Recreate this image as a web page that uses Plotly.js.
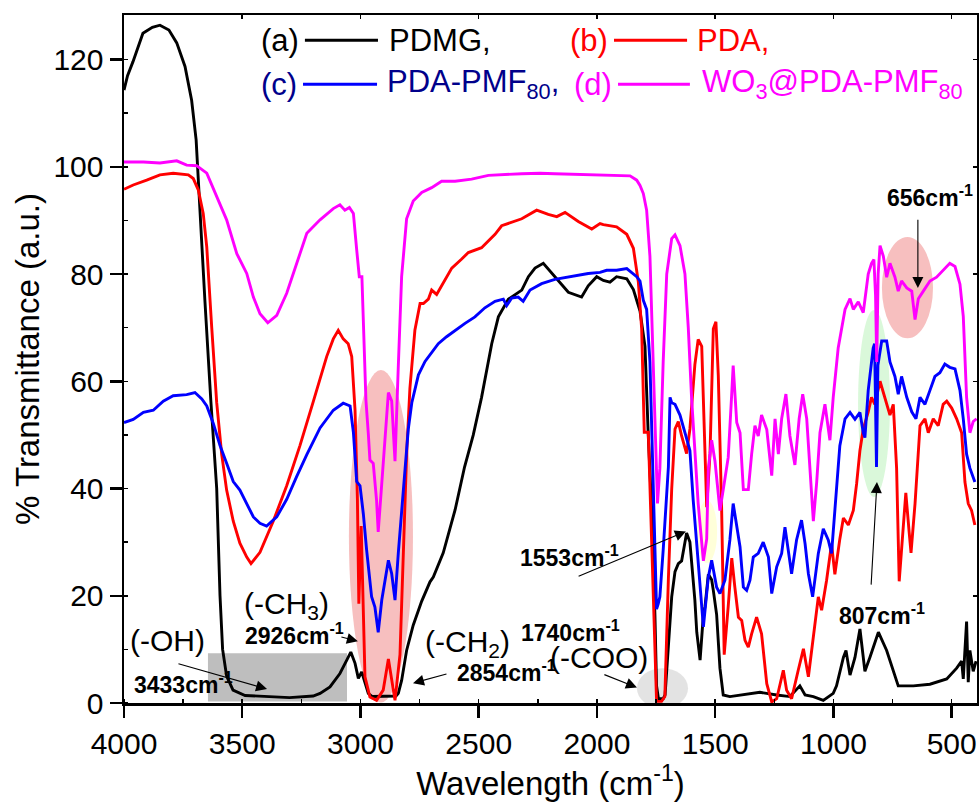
<!DOCTYPE html>
<html>
<head>
<meta charset="utf-8">
<script src="https://cdn.plot.ly/plotly-3.0.1.min.js"></script>
<style>html,body{margin:0;padding:0;background:#fff;}#chart{width:979px;height:803px;}</style>
</head>
<body>
<div id="chart"></div>
<script>
// ---- data: [wavenumber (cm-1), % transmittance] ----
const pdmg = [[4000,114.3],[3985,117],[3962,119.6],[3940,122.5],[3920,124.9],[3880,126],[3848,126.4],[3810,125.5],[3777,123.1],[3742,118.7],[3714,112.4],[3695,105],[3682,93.8],[3658,75.1],[3633,56.5],[3608,40],[3594,20],[3583,10],[3566,5],[3539,2.4],[3488,1.4],[3400,1.2],[3300,1.0],[3200,1.3],[3171,1.8],[3129,3.0],[3087,5.5],[3058,8.0],[3041,9.5],[3023,7.4],[3009,4.6],[2995,5.8],[2981,3.9],[2967,1.8],[2950,1.2],[2900,1.2],[2850,1.3],[2840,1.8],[2826,4.2],[2805,9.8],[2777,14.5],[2741,19],[2706,22.6],[2692,23.5],[2650,28],[2600,36],[2560,44],[2523,50],[2488,57],[2445,67],[2417,72],[2375,75.3],[2318,77],[2290,79.5],[2262,81.1],[2227,82],[2178,79.5],[2121,76.6],[2065,75.7],[2037,77.8],[2001,79.5],[1973,78.8],[1945,78.5],[1917,79.5],[1874,79.1],[1846,77.1],[1818,73.1],[1797,66.5],[1783,49.8],[1769,36.5],[1755,16.5],[1748,3.2],[1740,0.8],[1720,0.8],[1712,1.5],[1698,9.8],[1684,19.8],[1670,24.5],[1656,26],[1642,26.5],[1621,31.7],[1607,30],[1593,23.2],[1586,19.2],[1578,13.2],[1564,8],[1550,16.5],[1543,18],[1529,24],[1515,23],[1508,21],[1494,16.5],[1480,6.5],[1466,1.5],[1438,1.2],[1381,1.5],[1311,2.0],[1240,1.5],[1184,1.2],[1142,3.2],[1120,1.5],[1085,1.2],[1043,0.5],[1001,1.8],[987,3.2],[958,8.5],[947,9.8],[930,5.2],[909,8.5],[888,13.8],[867,5.9],[846,8.5],[810,13.2],[775,9.8],[747,5.9],[726,3.2],[662,3.2],[592,3.5],[521,4.5],[479,6.5],[458,7.8],[451,4.5],[437,15.2],[430,3.9],[423,9.8],[409,5.9],[397,7.8]];

const pda = [[4000,95.8],[3961,96.6],[3904,97.5],[3848,98.5],[3792,98.8],[3728,98.5],[3707,97.8],[3686,95.7],[3665,91.3],[3650,85],[3629,70],[3608,56],[3587,46.4],[3566,39.7],[3538,33.9],[3510,29.8],[3481,27.2],[3463,26.0],[3425,28.1],[3369,33.9],[3312,40.5],[3256,48.0],[3199,56.3],[3143,64.6],[3115,67.9],[3094,69.5],[3073,67.9],[3052,67.0],[3037,64.6],[3023,54.6],[3013,38],[3007,18.5],[2997,33],[2981,4.9],[2960,1.1],[2932,0.5],[2904,2.4],[2882,8.2],[2861,2.4],[2854,0.5],[2833,9.0],[2819,29.7],[2805,46.3],[2791,58.7],[2770,69.5],[2748,74.5],[2734,74.5],[2713,75.3],[2699,77.0],[2678,76.2],[2657,77.8],[2614,81.1],[2572,82.8],[2544,84.0],[2488,84.9],[2431,87.4],[2403,89.0],[2375,89.4],[2318,90.3],[2255,91.9],[2206,91.1],[2170,90.7],[2135,91.5],[2079,89.8],[2022,88.4],[1987,89.4],[1973,89.2],[1917,88.8],[1874,87.4],[1846,84.8],[1825,78.5],[1811,69.8],[1804,59.8],[1800,50.5],[1783,50.5],[1769,29.8],[1755,6.5],[1748,0.3],[1727,0.3],[1713,1.2],[1698,23.2],[1684,39.9],[1670,51.1],[1656,52.5],[1642,49.8],[1621,46.5],[1607,51.1],[1586,63.1],[1572,67.8],[1557,66.5],[1543,46.5],[1536,36.5],[1522,46.5],[1508,69.8],[1497,71.1],[1487,61.1],[1473,36.5],[1462,9],[1445,18],[1430,27],[1417,21.6],[1402,16],[1388,15.4],[1374,11.7],[1360,10.4],[1346,12.9],[1325,16],[1304,12.9],[1282,3.6],[1261,0.2],[1240,0.8],[1212,6.1],[1198,2.4],[1177,0.8],[1149,6.1],[1127,10.1],[1106,4.9],[1085,12.9],[1064,19.8],[1050,17.3],[1029,22.9],[1008,29.7],[994,24],[973,30.6],[958,34.5],[937,33.2],[916,35.9],[902,40.9],[888,47.1],[874,51.1],[853,54.3],[839,57],[825,55.7],[803,60],[789,58],[775,55.7],[761,53.7],[747,55.7],[733,43.8],[722,22.7],[708,30.6],[694,39.2],[680,31.9],[672,28],[655,37.2],[634,51.7],[613,53],[599,50.4],[578,53],[557,51.7],[536,55.7],[521,56.3],[500,55],[479,53],[458,50.4],[444,41.2],[430,37.2],[416,35.9],[402,33.2]];

const pdaPmf = [[4000,52.3],[3961,52.9],[3918,54.2],[3876,54.6],[3834,56.3],[3792,57.3],[3735,57.5],[3700,57.9],[3671,56.7],[3650,55.4],[3622,52.1],[3594,48.0],[3566,44.7],[3538,41.3],[3510,39.7],[3481,37.2],[3453,34.7],[3425,33.5],[3397,33.0],[3354,34.7],[3312,38.0],[3270,42.2],[3227,46.3],[3171,51.3],[3115,54.6],[3073,55.9],[3044,55.4],[3030,50.5],[3016,41.3],[3002,40.5],[2988,35.3],[2974,28.5],[2953,19.8],[2939,17.9],[2925,13.2],[2910,19.2],[2882,26.6],[2868,24.1],[2854,19.2],[2840,28],[2826,36],[2812,44],[2798,51],[2783,56],[2755,61.2],[2727,63.7],[2699,65.4],[2671,67.0],[2636,68.3],[2600,69.5],[2558,70.8],[2516,72.0],[2474,73.7],[2431,74.9],[2396,75.3],[2382,74.1],[2361,75.5],[2333,75.7],[2312,74.9],[2283,77.0],[2234,78.2],[2178,79.0],[2107,79.6],[2037,80.1],[1987,80.3],[1959,80.7],[1917,80.7],[1874,81.0],[1832,79.5],[1818,78.7],[1804,75.1],[1790,73.4],[1776,63.6],[1762,40],[1748,17.5],[1741,18.5],[1734,19.8],[1720,28.5],[1698,44.0],[1691,57],[1684,56],[1670,55.7],[1649,53.7],[1628,50.4],[1607,47.1],[1593,37.8],[1572,25.4],[1550,14.2],[1529,23.5],[1515,26.6],[1494,21.6],[1480,20.4],[1459,22.9],[1438,30.4],[1424,37.2],[1409,32.8],[1395,29.1],[1381,21.6],[1367,21.0],[1353,22.9],[1339,27.2],[1318,27.9],[1297,30.0],[1275,27.2],[1261,20.4],[1240,25.4],[1219,27.9],[1205,32.8],[1191,28.5],[1177,24.1],[1156,30.4],[1135,34.1],[1120,29.7],[1106,24.1],[1088,19.8],[1064,27.9],[1043,32.5],[1022,30.4],[1008,27.9],[994,36],[973,48],[951,53],[930,54.2],[909,52.9],[888,54.2],[874,50.4],[867,49.5],[853,58.3],[832,66.2],[826,67],[818,44],[812,63],[796,67.5],[775,67.5],[761,63.6],[740,60.9],[726,57.6],[712,60.9],[690,57.0],[669,54.3],[651,53.0],[634,57.0],[613,55.7],[592,58.3],[571,60.9],[550,61.6],[529,63.2],[508,62.6],[486,62.3],[465,58.3],[451,53.0],[437,46.4],[423,43.8],[402,41.2]];

const wo3 = [[4000,100.9],[3918,100.9],[3848,100.7],[3777,101.1],[3735,100.3],[3693,100.2],[3650,98.8],[3608,94.4],[3566,90.1],[3523,83.8],[3481,80.1],[3453,75.7],[3425,72.6],[3392,70.9],[3354,72.3],[3312,76.4],[3270,82.0],[3227,87.6],[3171,90.1],[3115,92.2],[3087,92.9],[3066,91.9],[3047,92.4],[3030,91.3],[3016,84.5],[3005,79.5],[2994,79.5],[2985,68.9],[2977,56.5],[2967,50.3],[2960,45.3],[2946,44.7],[2932,37.8],[2925,31.9],[2910,40.9],[2889,53.4],[2882,57.9],[2868,56.3],[2854,45.1],[2840,62.9],[2826,79.5],[2805,90.3],[2777,93.6],[2741,95.2],[2699,96.1],[2657,97.3],[2600,97.3],[2530,97.7],[2459,98.4],[2318,98.7],[2241,98.8],[2178,98.7],[2030,98.5],[1860,98.3],[1832,97.5],[1818,96.5],[1804,95.0],[1790,91.9],[1776,83.3],[1762,63.6],[1751,43.8],[1744,37.2],[1734,43.8],[1720,63.6],[1705,80.0],[1684,86.6],[1670,87.3],[1649,85.3],[1628,80.0],[1614,70.1],[1600,57.0],[1586,47.1],[1572,37.2],[1550,26.5],[1536,30.6],[1529,43.8],[1515,49.0],[1501,45.1],[1487,38],[1480,35.9],[1466,39.8],[1445,45.8],[1431,57.0],[1424,62.9],[1409,52.3],[1395,50.4],[1381,39.8],[1360,39.8],[1346,46.4],[1332,51.7],[1318,49.8],[1304,53.7],[1282,51.0],[1261,42.4],[1247,53.0],[1233,46.4],[1219,53.0],[1201,57.6],[1184,49.8],[1163,44.4],[1145,53.0],[1130,57.6],[1113,53.0],[1099,43.8],[1085,33.9],[1071,41.1],[1057,50.4],[1036,55.7],[1015,49.0],[1001,57.0],[980,66.2],[951,73.4],[930,75.4],[916,73.4],[895,74.8],[874,72.8],[853,80.0],[839,82.0],[829,82.7],[822,76],[817,63.6],[811,80],[803,85.3],[789,83.3],[775,79.4],[761,82.0],[740,79.4],[726,76.8],[712,78.7],[690,77.4],[669,76.8],[655,71.5],[641,75.4],[620,76.8],[592,78.7],[564,79.4],[536,80.7],[508,82.0],[486,81.4],[465,78.1],[451,72.1],[437,57.0],[423,50.4],[409,52.5],[395,53.0]];

const seriesNames = ['PDMG', 'PDA', 'PDA-PMF80', 'WO3@PDA-PMF80'];
const seriesData = [pdmg, pda, pdaPmf, wo3];
const seriesColors = ['#000000', '#FF0000', '#0000FF', '#FF00FF'];

// peak labels: [text, x, y]
const peakLabels = [
  ['<b>3433cm<sup>-1</sup></b>', 3966, 3.8],
  ['<b>2926cm<sup>-1</sup></b>', 3497, 12.9],
  ['<b>2854cm<sup>-1</sup></b>', 2600, 5.9],
  ['<b>1740cm<sup>-1</sup></b>', 2330, 13.4],
  ['<b>1553cm<sup>-1</sup></b>', 2334, 27.4],
  ['<b>807cm<sup>-1</sup></b>', 985, 16.6],
  ['<b>656cm<sup>-1</sup></b>', 782, 94.5]
];
const groupLabels = [
  ['(-OH)', 3983, 11.7],
  ['(-CH<sub>3</sub>)', 3501, 18.2],
  ['(-CH<sub>2</sub>)', 2736, 11.1],
  ['(-COO)', 2207, 8.5]
];
// arrows: [tailX, tailY, headX, headY]
const arrows = [
  [3776, 7.4, 3395, 2.6],
  [3087, 12.4, 3011, 11.5],
  [2630, 5.5, 2778, 3.7],
  [1975, 5.4, 1831, 2.9],
  [2084, 23.5, 1624, 32.0],
  [841, 21.8, 816, 41.2],
  [643, 90.4, 643, 77.4]
];
// highlight regions: [x0, x1, y0, y1, fill, kind]
const highlights = [
  [3645, 3057, 0.3, 9.3, '#BEBEBE', 'rect'],
  [3049, 2778, 0.1, 62.1, 'rgba(240,128,128,0.5)', 'circle'],
  [1831, 1615, -1.0, 6.5, 'rgba(200,200,200,0.5)', 'circle'],
  [1577, 1492, 26.1, 37.8, 'rgba(255,255,170,0.45)', 'circle'],
  [896, 761, 38.4, 73.3, 'rgba(150,235,150,0.35)', 'circle'],
  [795, 579, 68.0, 86.9, 'rgba(240,128,128,0.5)', 'circle']
];
// legend rows: [prefix, prefixColor, textColor, label, prefixX, lineX0, lineX1, labelX, y]
const legendRows = [
  ['(a)', '#000000', '#000000', 'PDMG,', 3429, 3235, 2926, 2888, 123.6],
  ['(b)', '#FF0000', '#FF0000', 'PDA,', 2123, 1928, 1619, 1585, 123.6],
  ['(c)', '#00008B', '#00008B', 'PDA-PMF<sub>80</sub>,', 3429, 3243, 2930, 2896, 115.4],
  ['(d)', '#FF00FF', '#FF00FF', 'WO<sub>3</sub>@PDA-PMF<sub>80</sub>', 2106, 1911, 1607, 1564, 115.4]
];
const legendLineColors = ['#000000', '#FF0000', '#0000FF', '#FF00FF'];

const FONT = 'Arial, "Liberation Sans", sans-serif';

const traces = seriesData.map((s, i) => ({
  type: 'scatter', mode: 'lines', name: seriesNames[i],
  x: s.map(p => p[0]), y: s.map(p => p[1]),
  line: {color: seriesColors[i], width: 2.9},
  showlegend: false, hoverinfo: 'skip'
}));
traces.push({type: 'scatter', mode: 'lines', x: [], y: [], xaxis: 'x2', yaxis: 'y2', showlegend: false, hoverinfo: 'skip'});

const annotations = [];
peakLabels.forEach(([t, x, y]) => annotations.push({
  text: t, x: x, y: y, xref: 'x', yref: 'y', xanchor: 'left', yanchor: 'middle',
  showarrow: false, font: {family: FONT, size: 23, color: '#000'}
}));
groupLabels.forEach(([t, x, y]) => annotations.push({
  text: t, x: x, y: y, xref: 'x', yref: 'y', xanchor: 'left', yanchor: 'middle',
  showarrow: false, font: {family: FONT, size: 30, color: '#000'}
}));
arrows.forEach(([tx, ty, hx, hy]) => annotations.push({
  text: '', x: hx, y: hy, ax: tx, ay: ty, xref: 'x', yref: 'y', axref: 'x', ayref: 'y',
  showarrow: true, arrowhead: 2, arrowsize: 2, arrowwidth: 1.1, arrowcolor: '#000', standoff: 0, startstandoff: 0
}));
legendRows.forEach(([pre, pc, tc, lab, px, lx0, lx1, tx, y]) => {
  annotations.push({text: pre, x: px, y: y, xref: 'x', yref: 'y', xanchor: 'left', yanchor: 'middle',
    showarrow: false, font: {family: FONT, size: 31, color: pc}});
  annotations.push({text: lab, x: tx, y: y, xref: 'x', yref: 'y', xanchor: 'left', yanchor: 'middle',
    showarrow: false, font: {family: FONT, size: 31, color: tc}});
});

const shapes = highlights.map(([x0, x1, y0, y1, fill, kind]) => ({
  type: kind, xref: 'x', yref: 'y', x0: x0, x1: x1, y0: y0, y1: y1,
  fillcolor: fill, line: {width: 0}, layer: 'below'
}));
legendRows.forEach((r, i) => shapes.push({
  type: 'line', xref: 'x', yref: 'y', x0: r[5], x1: r[6], y0: r[8], y1: r[8],
  line: {color: legendLineColors[i], width: 3}
}));

const xRange = [4000, 393];
const yRange = [0, 128.3];

const layout = {
  width: 979, height: 803,
  margin: {l: 124, r: 2, t: 15, b: 100},
  paper_bgcolor: '#fff', plot_bgcolor: '#fff',
  font: {family: FONT, color: '#000'},
  showlegend: false,
  xaxis: {
    range: xRange, autorange: false, tickmode: 'linear', tick0: 0, dtick: 500,
    ticks: 'outside', ticklen: 12, tickwidth: 2.5, tickcolor: '#000',
    showline: true, linewidth: 2.5, linecolor: '#000', showgrid: false, zeroline: false,
    tickfont: {family: FONT, size: 30, color: '#000'},
    minor: {dtick: 250, tick0: 0, ticks: 'inside', ticklen: 4, tickwidth: 1.5, tickcolor: '#000', showgrid: false},
    title: {text: 'Wavelength (cm<sup>-1</sup>)', font: {family: FONT, size: 33, color: '#000'}, standoff: 14}
  },
  yaxis: {
    range: yRange, autorange: false, tickmode: 'linear', tick0: 0, dtick: 20,
    ticks: 'outside', ticklen: 12, tickwidth: 2.5, tickcolor: '#000',
    showline: true, linewidth: 2.5, linecolor: '#000', showgrid: false, zeroline: false,
    tickfont: {family: FONT, size: 30, color: '#000'},
    minor: {dtick: 10, tick0: 0, ticks: 'inside', ticklen: 4, tickwidth: 1.5, tickcolor: '#000', showgrid: false},
    title: {text: '% Transmittance (a.u.)', font: {family: FONT, size: 33, color: '#000'}, standoff: 4}
  },
  xaxis2: {
    overlaying: 'x', side: 'top', anchor: 'y', range: xRange, autorange: false,
    tickmode: 'linear', tick0: 0, dtick: 500, ticks: 'inside', ticklen: 4, tickwidth: 1.5, tickcolor: '#000',
    showticklabels: false, showline: true, linewidth: 2, linecolor: '#000', showgrid: false, zeroline: false
  },
  yaxis2: {
    overlaying: 'y', side: 'right', anchor: 'x', range: yRange, autorange: false,
    tickmode: 'linear', tick0: 0, dtick: 20, ticks: 'inside', ticklen: 4, tickwidth: 1.5, tickcolor: '#000',
    showticklabels: false, showline: true, linewidth: 2, linecolor: '#000', showgrid: false, zeroline: false
  },
  annotations: annotations,
  shapes: shapes
};

Plotly.newPlot('chart', traces, layout, {displayModeBar: false, staticPlot: true});
</script>
</body>
</html>
